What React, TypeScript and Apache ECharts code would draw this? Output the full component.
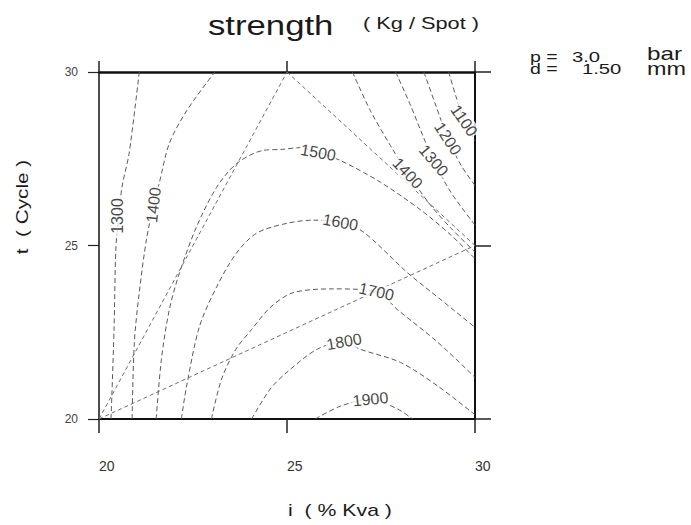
import React, { useEffect, useRef } from "react";
import * as echarts from "echarts";

// Axis ranges: current i (% Kva) and weld time t (cycles)
const xRange = [20, 30];
const yRange = [20, 30];
const tickStep = 5;

// Contour levels of spot strength (Kg/Spot)
const contourLevels = [1300, 1400, 1500, 1600, 1700, 1800, 1900, 1400, 1300, 1200, 1100];

// Contour polylines, as [i, t] pairs
const c1300L = [[20.32, 20], [20.4, 22.58], [20.45, 24.96], [20.53, 25.85], [20.61, 26.68], [20.8, 27.65], [21.07, 30]];
const c1400L = [[20.88, 20], [20.94, 22.21], [21.07, 23.64], [21.26, 25.16], [21.45, 26.17], [21.6, 26.79], [21.87, 27.94], [22.33, 28.88], [23.08, 30]];
const c1500 = [[21.52, 20], [21.66, 21.72], [21.87, 23.15], [22.14, 24.21], [22.59, 25.53], [23.13, 26.68], [23.66, 27.36], [24.36, 27.74], [24.87, 27.77], [25.35, 27.82], [25.83, 27.68], [26.42, 27.45], [27.49, 26.82], [28.56, 26.02], [29.36, 25.3], [30, 24.62]];
const c1600 = [[22.19, 20], [22.33, 20.95], [22.67, 22.66], [23.13, 23.81], [23.66, 24.79], [24.2, 25.36], [25.0, 25.64], [25.7, 25.73], [26.42, 25.67], [27.03, 25.39], [28.21, 24.21], [29.09, 23.44], [30, 22.64]];
const c1700 = [[22.99, 20], [23.26, 21.15], [23.64, 22.01], [24.06, 22.58], [24.55, 23.21], [25.16, 23.64], [26.23, 23.75], [27.38, 23.67], [27.94, 23.15], [29.01, 22.21], [30, 21.2]];
const c1800 = [[24.06, 20], [24.55, 20.86], [25.0, 21.35], [25.8, 22.01], [26.52, 22.23], [26.95, 22.01], [28.02, 21.63], [29.01, 20.95], [30, 20.12]];
const c1900 = [[25.75, 20], [26.42, 20.37], [27.22, 20.57], [27.94, 20.29], [28.34, 20]];
const c1400R = [[26.74, 30], [27.22, 28.88], [27.75, 27.88], [28.21, 27.08], [28.82, 26.16], [29.36, 25.5], [30, 24.81]];
const c1300R = [[27.89, 30], [28.29, 29.03], [28.61, 28.17], [28.9, 27.45], [29.36, 26.53], [30, 25.59]];
const c1200R = [[28.64, 30], [28.96, 29.03], [29.28, 28.08], [29.63, 27.31], [30, 26.73]];
const c1100R = [[29.3, 30], [29.49, 29.31], [29.71, 28.6], [30, 28.02]];

// Where each contour carries its value label, as [i, t]
const labelAnchors = [
  [20.5, 25.85], [21.45, 26.17], [25.83, 27.68], [26.42, 25.67], [27.38, 23.67],
  [26.52, 22.23], [27.22, 20.57], [28.21, 27.08], [28.9, 27.45], [29.28, 28.08], [29.71, 28.6],
];

// Experimental region: triangle of trial settings
const regionVertices = [[20, 20], [25, 30], [30, 25]];

const contourPaths = [c1300L, c1400L, c1500, c1600, c1700, c1800, c1900, c1400R, c1300R, c1200R, c1100R];
const labelRotation = [90, 84, -10, -10, -12, 10, 6, -47, -50, -57, -55];

const FONT = '"Liberation Sans", Arial, Helvetica, sans-serif';

export default function App() {
  const ref = useRef<HTMLDivElement>(null);

  useEffect(() => {
    if (!ref.current) return;
    const chart = echarts.init(ref.current, null, { renderer: "svg" });

    const dashed = { color: "#5a5a5a", width: 1, type: [5, 3] as number[] };

    const contourSeries = contourPaths.map((pts) => ({
      type: "line" as const,
      data: pts,
      symbol: "none",
      smooth: 0.3,
      silent: true,
      lineStyle: dashed,
      z: 2,
    }));

    const edges = [
      [regionVertices[0], regionVertices[1]],
      [regionVertices[0], regionVertices[2]],
      [regionVertices[1], regionVertices[2]],
    ];
    const regionSeries = edges.map((seg) => ({
      type: "line" as const,
      data: seg,
      symbol: "none",
      silent: true,
      lineStyle: { color: "#6e6e6e", width: 1, type: [4, 3] as number[] },
      z: 2,
    }));

    const labelSeries = {
      type: "scatter" as const,
      silent: true,
      symbolSize: 1,
      itemStyle: { color: "rgba(0,0,0,0)" },
      z: 5,
      label: {
        show: true,
        position: "inside",
        fontSize: 16,
        fontFamily: FONT,
        color: "#111",
        backgroundColor: "#fff",
        padding: [0, 1],
      },
      data: contourLevels.map((lvl, k) => ({
        value: labelAnchors[k],
        label: { rotate: labelRotation[k], formatter: String(lvl) },
      })),
    };

    const axisBase = {
      type: "value" as const,
      min: xRange[0],
      max: xRange[1],
      interval: tickStep,
      splitLine: { show: false },
    };

    const text = (
      str: string,
      x: number,
      y: number,
      size: number,
      sx: number,
      extra: Record<string, unknown> = {},
      align = "left"
    ) => ({
      type: "text",
      x,
      y,
      scaleX: sx,
      silent: true,
      ...extra,
      style: {
        text: str,
        fontSize: size,
        fontFamily: FONT,
        fill: "#1a1a1a",
        align,
        verticalAlign: "middle",
      },
    });

    chart.setOption({
      animation: false,
      backgroundColor: "#fff",
      grid: { left: 99, top: 72, width: 376, height: 347, containLabel: false },
      xAxis: [
        {
          ...axisBase,
          position: "bottom",
          axisLine: { show: true, onZero: false, lineStyle: { color: "#111", width: 2 } },
          axisTick: { show: true, length: 14, lineStyle: { color: "#222", width: 1.5 } },
          axisLabel: { margin: 40, fontSize: 14, color: "#333", align: "left", fontFamily: FONT },
        },
        {
          ...axisBase,
          position: "top",
          axisLine: { show: true, onZero: false, lineStyle: { color: "#111", width: 2.5 } },
          axisTick: { show: true, length: 11, lineStyle: { color: "#222", width: 1.5 } },
          axisLabel: { show: false },
        },
      ],
      yAxis: [
        {
          ...axisBase,
          min: yRange[0],
          max: yRange[1],
          position: "left",
          axisLine: { show: true, onZero: false, lineStyle: { color: "#111", width: 1.5 } },
          axisTick: { show: true, length: 11, lineStyle: { color: "#222", width: 1.2 } },
          axisLabel: { margin: 21, fontSize: 12, color: "#444", fontFamily: FONT },
        },
        {
          ...axisBase,
          min: yRange[0],
          max: yRange[1],
          position: "right",
          axisLine: { show: true, onZero: false, lineStyle: { color: "#111", width: 2 } },
          axisTick: { show: true, length: 16, lineStyle: { color: "#222", width: 1.5 } },
          axisLabel: { show: false },
        },
      ],
      graphic: [
        text("strength", 208, 25, 28, 1.24),
        text("( Kg / Spot )", 363, 23, 17, 1.28),
        text("p =", 530, 57, 15, 1.3),
        text("3.0", 572, 57, 15, 1.35),
        text("d =", 530, 69, 15, 1.3),
        text("1.50", 582, 69, 15, 1.35),
        text("bar", 647, 54, 18, 1.35),
        text("mm", 647, 69, 18, 1.3),
        text("i  ( % Kva )", 340, 510, 17, 1.25, {}, "center"),
        text("t  ( Cycle )", 22, 207, 17, 1.22, { rotation: Math.PI / 2 }, "center"),
      ],
      series: [...contourSeries, ...regionSeries, labelSeries],
    });

    return () => chart.dispose();
  }, []);

  return (
    <div
      ref={ref}
      style={{ position: "fixed", left: 0, top: 0, width: 691, height: 525, background: "#fff" }}
    />
  );
}
